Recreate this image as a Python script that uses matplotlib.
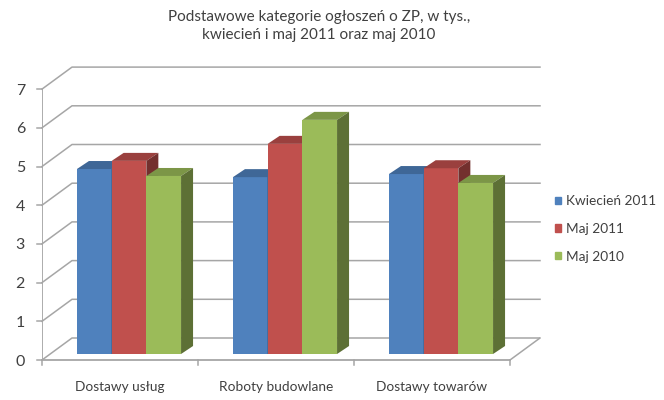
import numpy as np
import matplotlib
matplotlib.use('Agg')
import matplotlib.pyplot as plt
from matplotlib.patches import Patch

plt.rcParams['font.family'] = ['Lato', 'DejaVu Sans']

categories = ['Dostawy usług', 'Roboty budowlane', 'Dostawy towarów']
series_names = ['Kwiecień 2011', 'Maj 2011', 'Maj 2010']
kwiecien_2011 = [4.78, 4.57, 4.65]
maj_2011 = [4.99, 5.43, 4.80]
maj_2010 = [4.60, 6.05, 4.42]
yticks = [0, 1, 2, 3, 4, 5, 6, 7]

front = ['#4f81bd', '#c0504d', '#9bbb59']
top = ['#3f6797', '#9a403e', '#7c9647']
side = ['#2f4d71', '#73302e', '#5d7035']
gridcol = '#a6a6a6'
textcol = '#404040'

# pixel sizes of the fake 3d box
pxx = 156.0   # one category
pxy = 38.7    # one unit on y
wall_dx, wall_dy = 30 / pxx, 22 / pxy
base_dx, base_dy = 9 / pxx, 6 / pxy
bar_dx, bar_dy = 12 / pxx, 8 / pxy
barw = 34.7 / pxx

fig = plt.figure(figsize=(6.64, 4), dpi=100)
ax = fig.add_axes([42 / 664, 40 / 400, 498 / 664, 293 / 400])
ax.set_xlim(0, 498 / pxx)
ax.set_ylim(0, 293 / pxy)
ax.axis('off')

# back wall lines and the diagonals on the left
for v in yticks:
    ax.plot([0, wall_dx, 3 + wall_dx], [v, v + wall_dy, v + wall_dy], color=gridcol, lw=1.1, zorder=1, clip_on=False)
    ax.plot([-5 / pxx, 0], [v, v], color=gridcol, lw=1.1, clip_on=False)
    ax.text(-17 / pxx, v - 1.5 / pxy, str(v), ha='right', va='center', fontsize=11.5, color=textcol)

# floor and axis lines
ax.plot([3, 3 + wall_dx], [0, wall_dy], color=gridcol, lw=1.1, zorder=1)
ax.plot([0, 3], [0, 0], color=gridcol, lw=1.3, zorder=1, clip_on=False)
ax.plot([0, 0], [0, 7], color=gridcol, lw=1.3, zorder=1)
for i in range(4):
    ax.plot([i, i], [0, -5 / pxy], color=gridcol, lw=1.1, clip_on=False)

# bars
values = [kwiecien_2011, maj_2011, maj_2010]
for s, vals in enumerate(values):
    for c, v in enumerate(vals):
        x0 = c + 0.5 + base_dx + (s - 1.5) * barw
        y0 = base_dy
        x1 = x0 + barw
        y1 = v + base_dy
        z = 3 + s
        ax.bar(x0, v, barw, bottom=y0, align='edge', color=front[s], lw=0, zorder=z)
        ax.fill([x0, x1, x1 + bar_dx, x0 + bar_dx], [y1, y1, y1 + bar_dy, y1 + bar_dy], color=top[s], lw=0, zorder=z)
        ax.fill([x1, x1 + bar_dx, x1 + bar_dx, x1], [y0, y0 + bar_dy, y1 + bar_dy, y1], color=side[s], lw=0, zorder=z)

for c, name in enumerate(categories):
    ax.text(c + 0.5, -27 / pxy, name, ha='center', va='center', fontsize=9.8, color=textcol)

fig.text(319 / 664, 1 - 17 / 400, 'Podstawowe kategorie ogłoszeń o ZP, w tys.,', ha='center', va='center', fontsize=11, color=textcol)
fig.text(319 / 664, 1 - 35 / 400, 'kwiecień i maj 2011 oraz maj 2010', ha='center', va='center', fontsize=11, color=textcol)

handles = [Patch(color=front[i]) for i in range(3)]
fig.legend(handles, series_names, loc='center left', bbox_to_anchor=(548 / 664, 1 - 229 / 400), frameon=False,
           fontsize=9.8, labelcolor=textcol, handlelength=0.45, handleheight=0.45, handletextpad=0.4,
           labelspacing=1.15, borderpad=0, borderaxespad=0.5)

fig.savefig('out.png', dpi=100)
